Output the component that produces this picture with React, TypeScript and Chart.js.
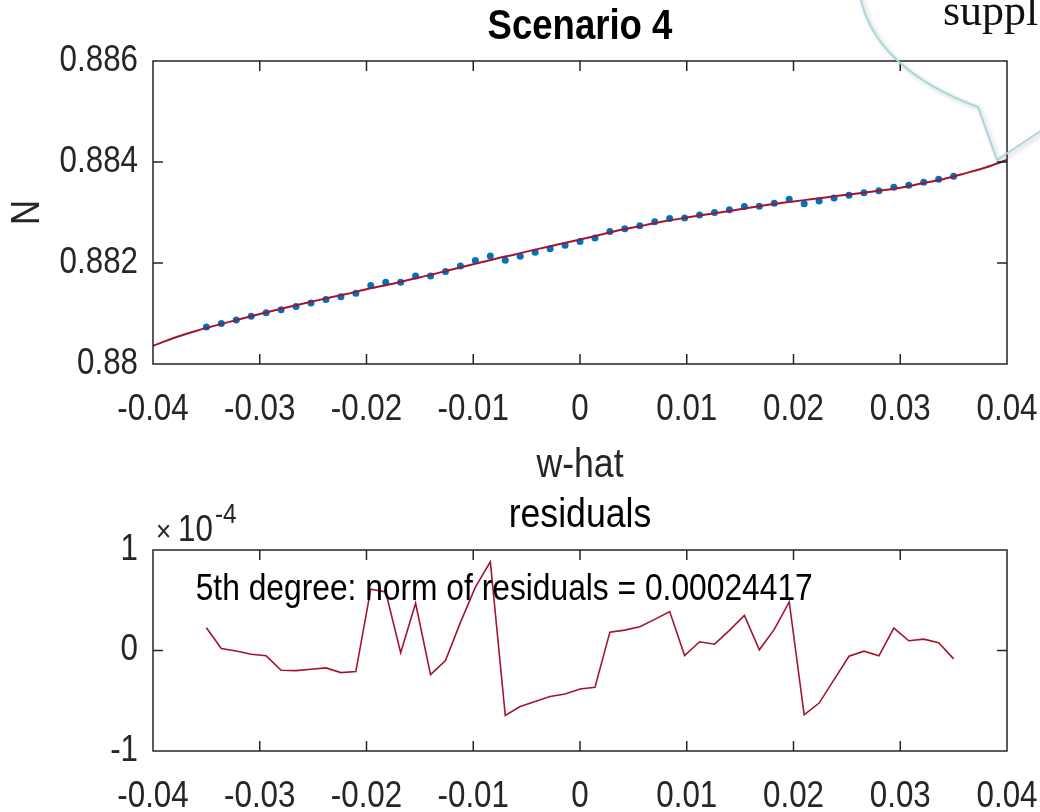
import React, { useEffect, useRef } from "react";
import { Chart, registerables } from "chart.js";

Chart.register(...registerables);

const SANS = '"Liberation Sans", Arial, Helvetica, sans-serif';
const SERIF = '"Liberation Serif", "Times New Roman", serif';
const AXIS_COLOR = "#262626";
const DATA_BLUE = "#0072BD";
const FIT_RED = "#A2142F";
const CONDENSE = 0.87; // reference text is a narrow Helvetica

// ---- data ----
const wHat = [
  -0.035, -0.0336, -0.0322, -0.0308, -0.0294, -0.028, -0.0266, -0.0252, -0.0238, -0.0224,
  -0.021, -0.0196, -0.0182, -0.0168, -0.0154, -0.014, -0.0126, -0.0112, -0.0098, -0.0084,
  -0.007, -0.0056, -0.0042, -0.0028, -0.0014, 0, 0.0014, 0.0028, 0.0042, 0.0056,
  0.007, 0.0084, 0.0098, 0.0112, 0.0126, 0.014, 0.0154, 0.0168, 0.0182, 0.0196,
  0.021, 0.0224, 0.0238, 0.0252, 0.0266, 0.028, 0.0294, 0.0308, 0.0322, 0.0336, 0.035,
];

const nObserved = [
  0.880735, 0.8808, 0.880872, 0.880946, 0.881017, 0.881075, 0.881137, 0.881206, 0.881276, 0.881334,
  0.881403, 0.881556, 0.88162, 0.88162, 0.881745, 0.881745, 0.881833, 0.881939, 0.88205, 0.88214,
  0.882055, 0.882135, 0.882215, 0.88228, 0.88235, 0.882425, 0.882495, 0.882625, 0.88268, 0.88274,
  0.882815, 0.88288, 0.88289, 0.88295, 0.883, 0.883055, 0.88312, 0.883125, 0.883185, 0.88326,
  0.883175, 0.88323, 0.883285, 0.88334, 0.88339, 0.88343, 0.8835, 0.88354, 0.8836, 0.88366, 0.88372,
];

const fitW = [
  -0.04, -0.038, -0.036, -0.034, -0.032, -0.03, -0.028, -0.026, -0.024, -0.022,
  -0.02, -0.018, -0.016, -0.014, -0.012, -0.01, -0.008, -0.006, -0.004, -0.002,
  0, 0.002, 0.004, 0.006, 0.008, 0.01, 0.012, 0.014, 0.016, 0.018,
  0.02, 0.022, 0.024, 0.026, 0.028, 0.03, 0.032, 0.034, 0.036, 0.038, 0.04,
];

const fitN = [
  0.88036, 0.88052, 0.880655, 0.88077, 0.88088, 0.88099, 0.881095, 0.881195, 0.88129, 0.88138,
  0.88148, 0.881568, 0.88167, 0.881765, 0.88187, 0.881975, 0.88208, 0.882175, 0.882275, 0.88237,
  0.882465, 0.882565, 0.882665, 0.882745, 0.88283, 0.8829, 0.882965, 0.88303, 0.8831, 0.883165,
  0.88322, 0.88327, 0.883325, 0.883375, 0.88343, 0.88349, 0.883575, 0.88366, 0.88377, 0.88389, 0.88404,
];

// residuals in units of 1e-4
const residualsE4 = [
  0.227, 0.02, -0.005, -0.037, -0.053, -0.197, -0.2, -0.187, -0.173, -0.22,
  -0.21, 0.61, 0.583, -0.023, 0.47, -0.24, -0.1, 0.28, 0.63, 0.883,
  -0.647, -0.557, -0.507, -0.457, -0.433, -0.383, -0.367, 0.183, 0.203, 0.237,
  0.31, 0.387, -0.05, 0.087, 0.063, 0.2, 0.35, 0.007, 0.21, 0.483,
  -0.64, -0.523, -0.29, -0.057, -0.007, -0.053, 0.223, 0.097, 0.113, 0.077, -0.083,
];

const xTickValues = [-0.04, -0.03, -0.02, -0.01, 0, 0.01, 0.02, 0.03, 0.04];
const nTickValues = [0.88, 0.882, 0.884, 0.886];
const residualTickValues = [-1, 0, 1];

const topTitle = "Scenario 4";
const bottomTitle = "residuals";
const xLabel = "w-hat";
const yLabel = "N";
const fitNote = "5th degree: norm of residuals = 0.00024417";
const noteAt = { w: -0.036, r: 0.5 };
const calloutText = "suppl";

const F = { tick: 36, label: 41, title: 42, yLabel: 40, note: 36.5, times: 30, tenPow: 36, exp: 28 };

const fmt = (v: number, d: number) => String(parseFloat(Number(v).toFixed(d)));

// draw all chart text horizontally condensed, like the narrow font of the reference
function condenseText(canvas: HTMLCanvasElement, k: number) {
  const ctx = canvas.getContext("2d") as any;
  if (ctx.__rawFillText) return;
  const raw = ctx.fillText.bind(ctx);
  ctx.__rawFillText = raw;
  ctx.fillText = (text: string, x: number, y: number, maxWidth?: number) => {
    ctx.save();
    ctx.translate(x, y);
    ctx.scale(k, 1);
    if (maxWidth === undefined || maxWidth === null) raw(text, 0, 0);
    else raw(text, 0, 0, maxWidth / k);
    ctx.restore();
  };
}

function makeBoxPlugin(xt: number[], yt: number[]) {
  return {
    id: "matlabBox",
    afterDatasetsDraw(chart: any) {
      const { ctx, chartArea } = chart;
      const { left, right, top, bottom } = chartArea;
      const xs = chart.scales.x;
      const ys = chart.scales.y;
      const tl = 10;
      ctx.save();
      ctx.strokeStyle = AXIS_COLOR;
      ctx.lineWidth = 1.5;
      ctx.beginPath();
      ctx.rect(left, top, right - left, bottom - top);
      xt.forEach((v) => {
        const p = xs.getPixelForValue(v);
        ctx.moveTo(p, bottom);
        ctx.lineTo(p, bottom - tl);
        ctx.moveTo(p, top);
        ctx.lineTo(p, top + tl);
      });
      yt.forEach((v) => {
        const p = ys.getPixelForValue(v);
        ctx.moveTo(left, p);
        ctx.lineTo(left + tl, p);
        ctx.moveTo(right, p);
        ctx.lineTo(right - tl, p);
      });
      ctx.stroke();
      ctx.restore();
    },
  };
}

const calloutPlugin = {
  id: "callout",
  afterDraw(chart: any) {
    const ctx = chart.ctx as any;
    const raw = ctx.__rawFillText || ctx.fillText.bind(ctx);
    ctx.save();
    ctx.fillStyle = "#111";
    ctx.font = `44px ${SERIF}`;
    ctx.textBaseline = "alphabetic";
    ctx.textAlign = "left";
    raw(calloutText, 943, 25);
    ctx.shadowColor = "rgba(0,0,0,0.22)";
    ctx.shadowBlur = 4;
    ctx.shadowOffsetX = 2;
    ctx.shadowOffsetY = 2;
    ctx.strokeStyle = "#aad7de";
    ctx.lineWidth = 2;
    ctx.beginPath();
    ctx.moveTo(860, -5);
    ctx.bezierCurveTo(868, 40, 905, 80, 978, 107);
    ctx.lineTo(997, 160);
    ctx.lineTo(1045, 128);
    ctx.stroke();
    ctx.restore();
  },
};

const notePlugin = {
  id: "residualNote",
  afterDraw(chart: any) {
    const ctx = chart.ctx;
    const xs = chart.scales.x;
    const ys = chart.scales.y;
    ctx.save();
    ctx.fillStyle = "#000";
    ctx.textAlign = "left";
    ctx.textBaseline = "alphabetic";
    ctx.font = `${F.note}px ${SANS}`;
    ctx.fillText(fitNote, xs.getPixelForValue(noteAt.w), ys.getPixelForValue(noteAt.r));
    // exponent label  x10^-4
    ctx.fillStyle = AXIS_COLOR;
    ctx.font = `${F.times}px ${SANS}`;
    ctx.fillText("\u00D7", 156, 51);
    ctx.font = `${F.tenPow}px ${SANS}`;
    ctx.fillText("10", 178, 51);
    ctx.font = `${F.exp}px ${SANS}`;
    ctx.fillText("-4", 215, 33);
    ctx.restore();
  },
};

function xScale(height: number, withTitle: boolean) {
  return {
    type: "linear",
    min: -0.04,
    max: 0.04,
    afterBuildTicks: (s: any) => {
      s.ticks = xTickValues.map((v) => ({ value: v }));
    },
    afterFit: (s: any) => {
      s.height = height;
      s.paddingLeft = 0;
      s.paddingRight = 0;
    },
    ticks: {
      callback: (v: any) => fmt(v, 2),
      font: { family: SANS, size: F.tick },
      color: AXIS_COLOR,
      padding: 24,
      maxRotation: 0,
      autoSkip: false,
    },
    grid: { display: false, drawTicks: false },
    border: { display: false },
    title: {
      display: withTitle,
      text: xLabel,
      color: AXIS_COLOR,
      font: { family: SANS, size: F.label },
      padding: { top: 0, bottom: 0 },
    },
  };
}

function yScale(min: number, max: number, ticks: number[], digits: number, title?: string) {
  return {
    type: "linear",
    min,
    max,
    afterBuildTicks: (s: any) => {
      s.ticks = ticks.map((v) => ({ value: v }));
    },
    afterFit: (s: any) => {
      s.width = 153;
      s.paddingTop = 0;
      s.paddingBottom = 0;
    },
    ticks: {
      callback: (v: any) => fmt(v, digits),
      font: { family: SANS, size: F.tick },
      color: AXIS_COLOR,
      padding: 15,
      autoSkip: false,
    },
    grid: { display: false, drawTicks: false },
    border: { display: false },
    title: {
      display: !!title,
      text: title || "",
      color: AXIS_COLOR,
      font: { family: SANS, size: F.yLabel },
      padding: { top: 4, bottom: 0 },
    },
  };
}

export default function App() {
  const topRef = useRef<HTMLCanvasElement | null>(null);
  const bottomRef = useRef<HTMLCanvasElement | null>(null);

  useEffect(() => {
    document.body.style.margin = "0";
    const topCanvas = topRef.current as HTMLCanvasElement;
    const bottomCanvas = bottomRef.current as HTMLCanvasElement;
    condenseText(topCanvas, CONDENSE);
    condenseText(bottomCanvas, CONDENSE);
    const titleLH = F.title * 1.2;
    const resLH = F.label * 1.2;

    const top = new Chart(topCanvas, {
      type: "scatter",
      data: {
        datasets: [
          {
            label: "fit",
            data: fitW.map((w, i) => ({ x: w, y: fitN[i] })),
            showLine: true,
            borderColor: FIT_RED,
            borderWidth: 2,
            pointRadius: 0,
            cubicInterpolationMode: "monotone",
          },
          {
            label: "data",
            data: wHat.map((w, i) => ({ x: w, y: nObserved[i] })),
            backgroundColor: DATA_BLUE,
            borderWidth: 0,
            pointRadius: 3.5,
          },
        ],
      },
      options: {
        animation: false,
        responsive: false,
        events: [],
        layout: { padding: { left: 0, right: 33, top: 0, bottom: 0 } },
        plugins: {
          legend: { display: false },
          tooltip: { enabled: false },
          title: {
            display: true,
            text: topTitle,
            fullSize: false,
            color: "#000",
            font: { family: SANS, size: F.title, weight: "bold" },
            padding: { top: 27 - titleLH / 2, bottom: 61 - 27 - titleLH / 2 },
          },
        },
        scales: {
          x: xScale(126, true),
          y: yScale(0.88, 0.886, nTickValues, 3, yLabel),
        },
      },
      plugins: [makeBoxPlugin(xTickValues, nTickValues), calloutPlugin],
    } as any);

    const bottom = new Chart(bottomCanvas, {
      type: "scatter",
      data: {
        datasets: [
          {
            label: "residuals",
            data: wHat.map((w, i) => ({ x: w, y: residualsE4[i] })),
            showLine: true,
            borderColor: FIT_RED,
            borderWidth: 1.6,
            pointRadius: 0,
            tension: 0,
          },
        ],
      },
      options: {
        animation: false,
        responsive: false,
        events: [],
        layout: { padding: { left: 0, right: 33, top: 0, bottom: 0 } },
        plugins: {
          legend: { display: false },
          tooltip: { enabled: false },
          title: {
            display: true,
            text: bottomTitle,
            fullSize: false,
            color: "#000",
            font: { family: SANS, size: F.label, weight: "normal" },
            padding: { top: 26 - resLH / 2, bottom: 60 - 26 - resLH / 2 },
          },
        },
        scales: {
          x: xScale(61, false),
          y: yScale(-1, 1, residualTickValues, 0),
        },
      },
      plugins: [makeBoxPlugin(xTickValues, residualTickValues), notePlugin],
    } as any);

    return () => {
      top.destroy();
      bottom.destroy();
    };
  }, []);

  return (
    <div
      style={{
        position: "absolute",
        left: 0,
        top: 0,
        width: 1040,
        height: 812,
        background: "#fff",
        overflow: "hidden",
      }}
    >
      <canvas
        ref={topRef}
        width={1040}
        height={490}
        style={{ position: "absolute", left: 0, top: 0, width: 1040, height: 490 }}
      />
      <canvas
        ref={bottomRef}
        width={1040}
        height={322}
        style={{ position: "absolute", left: 0, top: 490, width: 1040, height: 322 }}
      />
    </div>
  );
}
